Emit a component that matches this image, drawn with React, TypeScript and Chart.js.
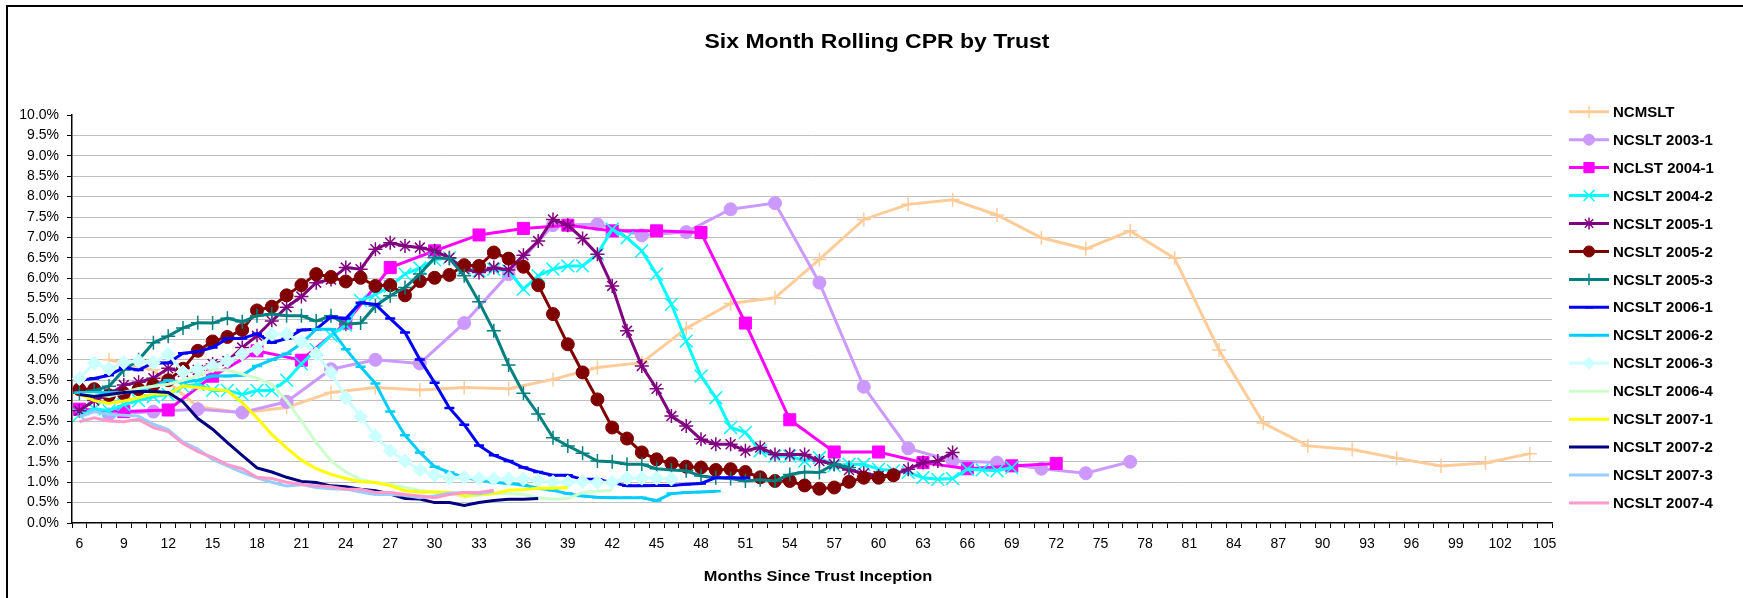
import React, { useEffect, useRef } from 'react';
import { Chart, registerables } from 'chart.js';
import { drawPoint } from 'chart.js/helpers';

Chart.register(...registerables);

const FONT = "'Liberation Sans', Arial, Helvetica, sans-serif";

// Category axis: months since trust inception
const monthLabels: string[] = Array.from({ length: 100 }, (_, i) => String(6 + i));
const yTickValues = [0, 0.5, 1, 1.5, 2, 2.5, 3, 3.5, 4, 4.5, 5, 5.5, 6, 6.5, 7, 7.5, 8, 8.5, 9, 9.5, 10];

// ---- quarterly series (month, value) ----
const ncmsltMonths = [8, 11, 14, 17, 20, 23, 26, 29, 32, 35, 38, 41, 44, 47, 50, 53, 56, 59, 62, 65, 68, 71, 74, 77, 80, 83, 86, 89, 92, 95, 98, 101, 104];
const ncmsltValues = [4.0, 3.75, 2.85, 2.7, 2.83, 3.2, 3.32, 3.26, 3.32, 3.29, 3.52, 3.81, 3.93, 4.77, 5.38, 5.52, 6.46, 7.44, 7.81, 7.92, 7.55, 6.99, 6.72, 7.16, 6.49, 4.24, 2.45, 1.89, 1.8, 1.59, 1.4, 1.47, 1.7];

const s2003_1Months = [8, 11, 14, 17, 20, 23, 26, 29, 32, 35, 38, 41, 44, 47, 50, 53, 56, 59, 62, 65, 68, 71, 74, 77];
const s2003_1Values = [2.66, 2.73, 2.79, 2.71, 2.97, 3.77, 4.0, 3.91, 4.9, 6.1, 7.3, 7.32, 7.05, 7.13, 7.69, 7.84, 5.89, 3.34, 1.83, 1.52, 1.48, 1.33, 1.22, 1.5];

const s2004_1Months = [6, 9, 12, 15, 18, 21, 24, 27, 30, 33, 36, 39, 42, 45, 48, 51, 54, 57, 60, 63, 66, 69, 72];
const s2004_1Values = [2.79, 2.73, 2.77, 3.6, 4.22, 3.99, 4.9, 6.26, 6.67, 7.06, 7.22, 7.3, 7.16, 7.16, 7.12, 4.9, 2.53, 1.74, 1.74, 1.48, 1.33, 1.4, 1.46];

// ---- monthly series (first month, values) ----
const s2004_2Start = 6;
const s2004_2Values = [2.65, 2.8, 2.75, 2.9, 3.0, 3.1, 3.15, 3.35, 3.4, 3.25, 3.25, 3.15, 3.25, 3.25, 3.5, 3.9, 4.25, 4.6, 4.85, 5.45, 5.6, 5.8, 6.1, 6.25, 6.45, 6.5, 6.25, 6.18, 6.22, 6.18, 5.73, 6.06, 6.22, 6.3, 6.3, 6.59, 7.2, 6.99, 6.67, 6.1, 5.36, 4.46, 3.6, 3.07, 2.34, 2.22, 1.77, 1.64, 1.64, 1.52, 1.6, 1.4, 1.44, 1.44, 1.32, 1.28, 1.24, 1.11, 1.07, 1.09, 1.32, 1.3, 1.28, 1.36];

const s2005_1Start = 6;
const s2005_1Values = [2.75, 3.0, 3.15, 3.38, 3.45, 3.55, 3.79, 3.7, 3.75, 3.9, 3.97, 4.3, 4.59, 4.95, 5.29, 5.55, 5.89, 5.97, 6.26, 6.22, 6.71, 6.87, 6.79, 6.75, 6.67, 6.5, 6.22, 6.14, 6.26, 6.2, 6.56, 6.91, 7.44, 7.3, 6.97, 6.59, 5.81, 4.71, 3.85, 3.29, 2.62, 2.38, 2.05, 1.93, 1.93, 1.77, 1.85, 1.68, 1.68, 1.68, 1.52, 1.44, 1.3, 1.22, 1.15, 1.18, 1.32, 1.48, 1.52, 1.73];

const s2005_2Start = 6;
const s2005_2Values = [3.28, 3.28, 3.13, 3.17, 3.28, 3.38, 3.5, 3.78, 4.22, 4.45, 4.56, 4.73, 5.21, 5.3, 5.58, 5.83, 6.1, 6.03, 5.92, 6.01, 5.81, 5.83, 5.58, 5.93, 6.01, 6.08, 6.32, 6.3, 6.63, 6.48, 6.28, 5.83, 5.12, 4.38, 3.69, 3.03, 2.34, 2.07, 1.73, 1.56, 1.46, 1.38, 1.36, 1.3, 1.32, 1.25, 1.12, 1.03, 1.03, 0.92, 0.84, 0.87, 1.01, 1.11, 1.11, 1.17];

const s2005_3Start = 6;
const s2005_3Values = [3.18, 3.25, 3.35, 3.75, 4.0, 4.42, 4.58, 4.78, 4.91, 4.9, 5.02, 4.93, 5.08, 5.12, 5.08, 5.08, 4.95, 5.08, 4.87, 4.9, 5.32, 5.57, 5.77, 6.1, 6.5, 6.48, 6.06, 5.42, 4.71, 3.87, 3.18, 2.67, 2.09, 1.89, 1.71, 1.52, 1.5, 1.44, 1.44, 1.33, 1.3, 1.28, 1.15, 1.11, 1.09, 1.03, 1.06, 1.03, 1.19, 1.25, 1.24, 1.44, 1.36];

const s2006_1Start = 6;
const s2006_1Values = [3.5, 3.54, 3.62, 3.81, 3.75, 3.93, 3.92, 4.16, 4.2, 4.3, 4.52, 4.52, 4.64, 4.42, 4.52, 4.73, 4.75, 5.05, 5.01, 5.4, 5.36, 5.01, 4.67, 4.01, 3.44, 2.82, 2.41, 1.9, 1.66, 1.52, 1.36, 1.25, 1.17, 1.17, 1.07, 1.07, 0.99, 0.91, 0.91, 0.92, 0.92, 0.95, 0.97, 1.11, 1.11, 1.1];

const s2006_2Start = 6;
const s2006_2Values = [3.2, 3.2, 3.2, 3.2, 3.25, 3.35, 3.5, 3.45, 3.5, 3.6, 3.6, 3.62, 3.85, 4.0, 4.15, 4.4, 4.75, 4.75, 4.26, 3.83, 3.42, 2.73, 2.15, 1.73, 1.38, 1.24, 1.12, 1.05, 1.0, 0.97, 0.93, 0.85, 0.8, 0.72, 0.66, 0.63, 0.62, 0.62, 0.62, 0.55, 0.72, 0.75, 0.76, 0.78];

const s2006_3Start = 6;
const s2006_3Values = [3.54, 3.92, 3.78, 3.93, 3.97, 3.93, 4.14, 3.7, 3.77, 3.85, 3.97, 4.14, 4.26, 4.63, 4.63, 4.44, 4.14, 3.69, 3.07, 2.61, 2.13, 1.77, 1.52, 1.3, 1.17, 1.1, 1.12, 1.09, 1.08, 1.08, 1.08, 1.05, 1.0, 1.0, 1.02, 1.0, 1.0, 1.1, 1.1, 1.1, 1.08];

const s2006_4Start = 6;
const s2006_4Values = [3.15, 3.15, 3.1, 3.2, 3.3, 3.35, 3.4, 3.5, 3.6, 3.75, 3.75, 3.65, 3.55, 3.4, 3.0, 2.5, 1.97, 1.52, 1.25, 1.07, 0.99, 0.95, 0.88, 0.8, 0.75, 0.72, 0.65, 0.68, 0.72, 0.72, 0.7, 0.62, 0.58, 0.6, 0.75, 0.78, 0.8];

const s2007_1Start = 6;
const s2007_1Values = [3.16, 3.0, 2.93, 2.99, 3.07, 3.16, 3.16, 3.36, 3.32, 3.28, 3.24, 2.95, 2.58, 2.17, 1.84, 1.54, 1.33, 1.19, 1.09, 1.01, 0.99, 0.92, 0.79, 0.76, 0.76, 0.75, 0.66, 0.7, 0.72, 0.8, 0.82, 0.85, 0.85, 0.87];

const s2007_2Start = 6;
const s2007_2Values = [3.15, 3.1, 3.15, 3.2, 3.22, 3.22, 3.2, 2.97, 2.56, 2.3, 1.97, 1.66, 1.35, 1.25, 1.12, 1.02, 0.99, 0.91, 0.89, 0.83, 0.79, 0.71, 0.6, 0.59, 0.5, 0.5, 0.43, 0.5, 0.55, 0.58, 0.58, 0.6];

const s2007_3Start = 6;
const s2007_3Values = [2.6, 2.73, 2.66, 2.64, 2.62, 2.42, 2.29, 1.98, 1.81, 1.56, 1.4, 1.24, 1.11, 1.0, 0.91, 0.94, 0.87, 0.84, 0.83, 0.76, 0.7, 0.7, 0.68, 0.62, 0.66, 0.73, 0.75, 0.72, 0.78];

const s2007_4Start = 6;
const s2007_4Values = [2.48, 2.58, 2.5, 2.48, 2.54, 2.34, 2.24, 1.95, 1.75, 1.61, 1.43, 1.33, 1.12, 1.09, 1.0, 0.95, 0.91, 0.89, 0.83, 0.83, 0.75, 0.75, 0.7, 0.66, 0.62, 0.7, 0.75, 0.75, 0.8];

type Style = { name: string; color: string; point: string | false; radius: number; pbw: number };

const seriesNames = ['NCMSLT', 'NCSLT 2003-1', 'NCLST 2004-1', 'NCSLT 2004-2', 'NCSLT 2005-1', 'NCSLT 2005-2', 'NCSLT 2005-3', 'NCSLT 2006-1', 'NCSLT 2006-2', 'NCSLT 2006-3', 'NCSLT 2006-4', 'NCSLT 2007-1', 'NCSLT 2007-2', 'NCSLT 2007-3', 'NCSLT 2007-4'];
const seriesColors = ['#FFCC99', '#CC99FF', '#FF00FF', '#00FFFF', '#800080', '#800000', '#008080', '#0000FF', '#00CCFF', '#CCFFFF', '#CCFFCC', '#FFFF00', '#000080', '#99CCFF', '#FF99CC'];

const styles: Style[] = [
  { name: seriesNames[0], color: seriesColors[0], point: 'cross', radius: 7, pbw: 1.5 },
  { name: seriesNames[1], color: seriesColors[1], point: 'circle', radius: 6.5, pbw: 1 },
  { name: seriesNames[2], color: seriesColors[2], point: 'rect', radius: 8.5, pbw: 1 },
  { name: seriesNames[3], color: seriesColors[3], point: 'crossRot', radius: 9, pbw: 1.5 },
  { name: seriesNames[4], color: seriesColors[4], point: 'star', radius: 7, pbw: 1.5 },
  { name: seriesNames[5], color: seriesColors[5], point: 'circle', radius: 6.5, pbw: 1 },
  { name: seriesNames[6], color: seriesColors[6], point: 'cross', radius: 7, pbw: 1.5 },
  { name: seriesNames[7], color: seriesColors[7], point: 'line', radius: 5, pbw: 2.5 },
  { name: seriesNames[8], color: seriesColors[8], point: 'line', radius: 5, pbw: 2.5 },
  { name: seriesNames[9], color: seriesColors[9], point: 'rectRot', radius: 7, pbw: 1 },
  { name: seriesNames[10], color: seriesColors[10], point: false, radius: 0, pbw: 0 },
  { name: seriesNames[11], color: seriesColors[11], point: false, radius: 0, pbw: 0 },
  { name: seriesNames[12], color: seriesColors[12], point: false, radius: 0, pbw: 0 },
  { name: seriesNames[13], color: seriesColors[13], point: false, radius: 0, pbw: 0 },
  { name: seriesNames[14], color: seriesColors[14], point: false, radius: 0, pbw: 0 },
];

const fromMonths = (ms: number[], vs: number[]) => ms.map((m, i) => ({ x: String(m), y: vs[i] }));
const fromStart = (start: number, vs: number[]) => vs.map((v, i) => ({ x: String(start + i), y: v }));

const seriesData = [
  fromMonths(ncmsltMonths, ncmsltValues),
  fromMonths(s2003_1Months, s2003_1Values),
  fromMonths(s2004_1Months, s2004_1Values),
  fromStart(s2004_2Start, s2004_2Values),
  fromStart(s2005_1Start, s2005_1Values),
  fromStart(s2005_2Start, s2005_2Values),
  fromStart(s2005_3Start, s2005_3Values),
  fromStart(s2006_1Start, s2006_1Values),
  fromStart(s2006_2Start, s2006_2Values),
  fromStart(s2006_3Start, s2006_3Values),
  fromStart(s2006_4Start, s2006_4Values),
  fromStart(s2007_1Start, s2007_1Values),
  fromStart(s2007_2Start, s2007_2Values),
  fromStart(s2007_3Start, s2007_3Values),
  fromStart(s2007_4Start, s2007_4Values),
];

const W = 1743;
const H = 598;

function stretchedText(ctx: CanvasRenderingContext2D, text: string, x: number, y: number, sx: number) {
  ctx.save();
  ctx.translate(x, y);
  ctx.scale(sx, 1);
  ctx.fillText(text, 0, 0);
  ctx.restore();
}

const decorPlugin = {
  id: 'decor',
  afterDraw(chart: any) {
    const ctx = chart.ctx as CanvasRenderingContext2D;
    ctx.save();
    // frame
    ctx.strokeStyle = '#000';
    ctx.lineWidth = 2;
    ctx.beginPath();
    ctx.moveTo(7, H + 2);
    ctx.lineTo(7, 6);
    ctx.lineTo(W + 2, 6);
    ctx.stroke();
    // title
    ctx.fillStyle = '#000';
    ctx.font = `bold 20px ${FONT}`;
    ctx.textAlign = 'center';
    ctx.textBaseline = 'middle';
    stretchedText(ctx, 'Six Month Rolling CPR by Trust', 877, 42, 1.15);
    // x-axis title
    ctx.font = `bold 14px ${FONT}`;
    stretchedText(ctx, 'Months Since Trust Inception', 818, 577, 1.17);
    // legend
    const x1 = 1569, x2 = 1609, tx = 1613;
    styles.forEach((s, i) => {
      const y = 111.7 + i * 27.95;
      ctx.strokeStyle = s.color;
      ctx.lineWidth = 3;
      ctx.beginPath();
      ctx.moveTo(x1, y);
      ctx.lineTo(x2, y);
      ctx.stroke();
      if (s.point) {
        ctx.fillStyle = s.color;
        ctx.strokeStyle = s.color;
        ctx.lineWidth = s.pbw;
        drawPoint(ctx, { pointStyle: s.point as any, rotation: 0, radius: s.radius * 0.85, borderWidth: s.pbw }, (x1 + x2) / 2, y);
      }
      ctx.fillStyle = '#000';
      ctx.font = `bold 15px ${FONT}`;
      ctx.textAlign = 'left';
      ctx.textBaseline = 'middle';
      ctx.fillText(s.name, tx, y + 1);
    });
    ctx.restore();
  },
};

export default function App() {
  const ref = useRef<HTMLCanvasElement>(null);
  useEffect(() => {
    if (!ref.current) return;
    const n = styles.length;
    const chart = new Chart(ref.current, {
      type: 'line',
      data: {
        labels: monthLabels,
        datasets: styles.map((s, i) => ({
          label: s.name,
          data: seriesData[i] as any,
          borderColor: s.color,
          backgroundColor: s.color,
          borderWidth: 3,
          pointStyle: (s.point || 'circle') as any,
          pointRadius: s.point ? s.radius : 0,
          pointBorderWidth: s.pbw,
          pointBorderColor: s.color,
          pointBackgroundColor: s.color,
          pointHoverRadius: s.point ? s.radius : 0,
          tension: 0,
          fill: false,
          spanGaps: true,
          order: n - i,
        })),
      },
      options: {
        animation: false,
        responsive: false,
        maintainAspectRatio: false,
        events: [],
        layout: { padding: { top: 115, right: 191, bottom: 0, left: 0 } },
        plugins: {
          legend: { display: false },
          title: { display: false },
          tooltip: { enabled: false },
        },
        scales: {
          x: {
            type: 'category',
            offset: true,
            grid: {
              offset: true,
              drawOnChartArea: false,
              drawTicks: true,
              tickLength: 5,
              color: '#000',
              tickColor: '#000',
              tickWidth: 1,
            },
            border: { color: '#000', width: 1.5 },
            ticks: {
              autoSkip: false,
              maxRotation: 0,
              minRotation: 0,
              padding: 8,
              color: '#000',
              font: { family: FONT, size: 14 },
              callback: (_v: any, i: number) => (i % 3 === 0 ? monthLabels[i] : ''),
            },
            title: { display: false },
            afterFit: (s: any) => {
              s.height = 75;
              s.paddingLeft = 0;
              s.paddingRight = 0;
            },
          } as any,
          y: {
            type: 'linear',
            min: 0,
            max: 10,
            afterBuildTicks: (s: any) => {
              s.ticks = yTickValues.map((v) => ({ value: v }));
            },
            ticks: {
              padding: 8,
              color: '#000',
              font: { family: FONT, size: 14 },
              callback: (v: any) => Number(v).toFixed(1) + '%',
            },
            grid: {
              color: (c: any) => (c.tick && (c.tick.value === 10 || c.tick.value === 0) ? 'rgba(0,0,0,0)' : '#C0C0C0'),
              lineWidth: 1,
              tickColor: '#000',
              tickLength: 5,
              drawTicks: true,
            },
            border: { color: '#000', width: 1.5 },
            afterFit: (s: any) => {
              s.width = 72;
              s.paddingTop = 0;
              s.paddingBottom = 0;
            },
          } as any,
        },
      },
      plugins: [decorPlugin],
    });
    return () => chart.destroy();
  }, []);
  return (
    <div style={{ position: 'absolute', left: 0, top: 0, width: W, height: H, background: '#fff' }}>
      <canvas ref={ref} width={W} height={H} style={{ width: W, height: H, display: 'block' }} />
    </div>
  );
}
